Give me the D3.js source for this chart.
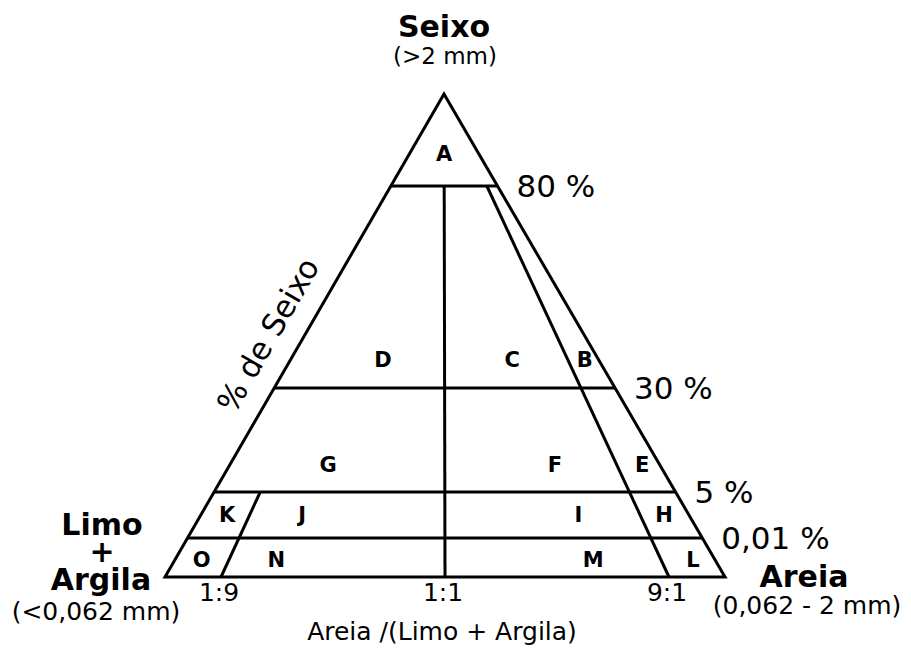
<!DOCTYPE html>
<html>
<head>
<meta charset="utf-8">
<script src="https://cdn.jsdelivr.net/npm/d3@7"></script>
<style>
  body { margin: 0; background: #fff; }
  text { font-family: "DejaVu Sans", Verdana, sans-serif; fill: #000; }
  .big { font-size: 30px; font-weight: bold; }
  .sub { font-size: 25px; }
  .limit { font-size: 31px; }
  .ratio { font-size: 25px; }
  .field { font-size: 21px; font-weight: bold; }
  .line { fill: none; stroke: #000; stroke-width: 3; }
</style>
</head>
<body>
<script>
var width = 911;
var height = 648;

// horizontal limits, % de Seixo
var gravelLimits = [80, 30, 5, 0.01];
var gravelLabels = ["80 %", "30 %", "5 %", "0,01 %"];

// Areia /(Limo + Argila) ratio lines
var ratioValues = [0.1, 0.5, 0.9];
var ratioLabels = ["1:9", "1:1", "9:1"];
var ratioStart = [5, 80, 80];   // % Seixo where each ratio line begins

// classes (letter, % Seixo, ratio) where the letter sits
var fieldNames  = ["A", "D", "C", "B", "G", "F", "E", "K", "J", "I", "H", "O", "N", "M", "L"];
var fieldGravel = [87, 37, 37, 37, 11.7, 11.7, 11.7, 2.6, 2.6, 2.6, 2.6, 0.0046, 0.0046, 0.0046, 0.0046];
var fieldRatio  = [0.5, 0.30, 0.72, 0.955, 0.228, 0.757, 0.96, 0.053, 0.207, 0.774, 0.95, 0.049, 0.187, 0.775, 0.96];

var svg = d3.select("body")
            .append("svg")
            .attr("width", width)
            .attr("height", height);

svg.append("rect")
   .attr("width", width)
   .attr("height", height)
   .attr("fill", "#fff");

// Folk's diagram is not linear in % Seixo
var yScale = d3.scaleLinear()
               .domain([0, 0.01, 5, 30, 80, 100])
               .range([577, 538, 492, 388, 186, 94]);

var xLeft = d3.scaleLinear().domain([94, 577]).range([444, 165]);
var xRight = d3.scaleLinear().domain([94, 577]).range([444, 725]);

function pos(g, r) {
  var y = yScale(g);
  return [xLeft(y) + r * (xRight(y) - xLeft(y)), y];
}

var line = d3.line();

//Triangle
svg.append("path")
   .attr("class", "line")
   .attr("stroke-linejoin", "miter")
   .attr("d", line([pos(100, 0.5), pos(0, 0), pos(0, 1)]) + "Z");

//Gravel limits
svg.selectAll(".limitLine")
   .data(gravelLimits)
   .enter()
   .append("path")
   .attr("class", "line limitLine")
   .attr("d", function(d) { return line([pos(d, 0), pos(d, 1)]); });

svg.selectAll(".limitLabel")
   .data(gravelLimits)
   .enter()
   .append("text")
   .attr("class", "limit")
   .attr("x", function(d) { return pos(d, 1)[0] + 19; })
   .attr("y", function(d) { return pos(d, 1)[1] + 11; })
   .text(function(d, i) { return gravelLabels[i]; });

//Ratio lines
svg.selectAll(".ratioLine")
   .data(ratioValues)
   .enter()
   .append("path")
   .attr("class", "line ratioLine")
   .attr("d", function(d, i) { return line([pos(ratioStart[i], d), pos(0, d)]); });

svg.selectAll(".ratioLabel")
   .data(ratioValues)
   .enter()
   .append("text")
   .attr("class", "ratio")
   .attr("text-anchor", "middle")
   .attr("x", function(d) { return pos(0, d)[0] - 2; })
   .attr("y", 601)
   .text(function(d, i) { return ratioLabels[i]; });

//Class letters
svg.selectAll(".field")
   .data(fieldNames)
   .enter()
   .append("text")
   .attr("class", "field")
   .attr("text-anchor", "middle")
   .attr("dy", "0.36em")
   .attr("x", function(d, i) { return pos(fieldGravel[i], fieldRatio[i])[0]; })
   .attr("y", function(d, i) { return pos(fieldGravel[i], fieldRatio[i])[1]; })
   .text(function(d) { return d; });

//Poles
svg.append("text").attr("class", "big").attr("text-anchor", "middle")
   .attr("x", 444).attr("y", 37).text("Seixo");
svg.append("text").attr("class", "sub").attr("text-anchor", "middle")
   .style("font-size", "23px")
   .attr("x", 445).attr("y", 64).text("(>2 mm)");

svg.append("text").attr("class", "big").attr("text-anchor", "middle")
   .attr("x", 102).attr("y", 535).text("Limo");
svg.append("text").attr("class", "big").attr("text-anchor", "middle")
   .attr("x", 102).attr("y", 562).text("+");
svg.append("text").attr("class", "big").attr("text-anchor", "middle")
   .attr("x", 101).attr("y", 590).text("Argila");
svg.append("text").attr("class", "sub").attr("text-anchor", "middle")
   .attr("x", 96).attr("y", 620).text("(<0,062 mm)");

svg.append("text").attr("class", "big").attr("text-anchor", "middle")
   .attr("x", 804).attr("y", 587).text("Areia");
svg.append("text").attr("class", "sub").attr("text-anchor", "middle")
   .attr("x", 807).attr("y", 614).text("(0,062 - 2 mm)");

//Axis titles
svg.append("text")
   .attr("class", "ratio")
   .attr("text-anchor", "middle")
   .attr("x", 442)
   .attr("y", 640)
   .text("Areia /(Limo + Argila)");

svg.append("text")
   .attr("class", "limit")
   .attr("text-anchor", "middle")
   .attr("dy", "0.35em")
   .attr("transform", "translate(268,335) rotate(-60)")
   .style("font-size", "31px")
   .text("% de Seixo");
</script>
</body>
</html>
